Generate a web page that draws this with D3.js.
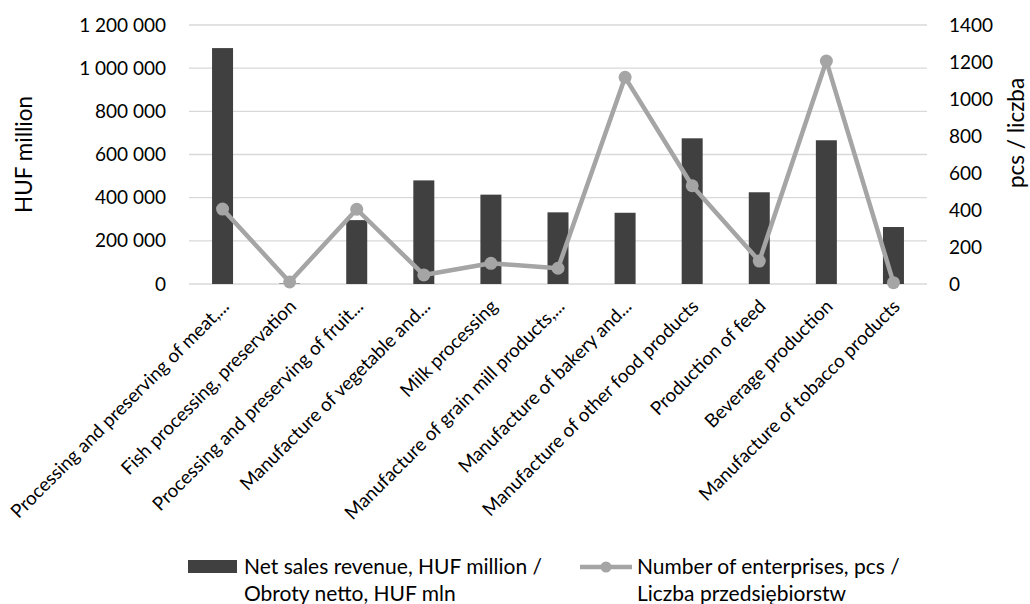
<!DOCTYPE html>
<html>
<head>
<meta charset="utf-8">
<script src="https://d3js.org/d3.v7.min.js"></script>
<style>
  body { margin: 0; background: #fff; }
  text { font-family: Lato, "Open Sans", sans-serif; fill: #000; }
</style>
</head>
<body>
<svg id="chart" width="1030" height="604"></svg>
<script>
var categories = [
  "Processing and preserving of meat,...",
  "Fish processing, preservation",
  "Processing and preserving of fruit...",
  "Manufacture of vegetable and...",
  "Milk processing",
  "Manufacture of grain mill products,...",
  "Manufacture of bakery and...",
  "Manufacture of other food products",
  "Production of feed",
  "Beverage production",
  "Manufacture of tobacco products"
];
var revenue = [1093000, 2000, 296000, 480000, 414000, 332000, 330000, 675000, 425000, 666000, 264000];
var enterprises = [405, 11, 404, 49, 112, 85, 1117, 531, 124, 1205, 7];
var leftTicks = [0, 200000, 400000, 600000, 800000, 1000000, 1200000];
var rightTicks = [0, 200, 400, 600, 800, 1000, 1200, 1400];
var barName = ["Net sales revenue, HUF million /", "Obroty netto, HUF mln"];
var lineName = ["Number of enterprises, pcs /", "Liczba przedsiębiorstw"];

var svg = d3.select("#chart");
var margin = {left: 189, right: 103, top: 25, bottom: 320};
var W = 1030, H = 604;

var x = d3.scaleBand().domain(categories).range([margin.left, W - margin.right]).paddingInner(0).paddingOuter(0);
var yL = d3.scaleLinear().domain([0, 1200000]).range([H - margin.bottom, margin.top]);
var yR = d3.scaleLinear().domain([0, 1400]).range([H - margin.bottom, margin.top]);

var fmt = function(d) { return d3.format(",")(d).replace(/,/g, " "); };

// gridlines
svg.append("g").selectAll("line").data(leftTicks).enter().append("line")
  .attr("x1", margin.left).attr("x2", W - margin.right)
  .attr("y1", function(d) { return yL(d); }).attr("y2", function(d) { return yL(d); })
  .attr("stroke", "#d9d9d9").attr("stroke-width", 1.3);

// left axis
var gl = svg.append("g").attr("transform", "translate(" + margin.left + ",0)")
  .call(d3.axisLeft(yL).tickValues(leftTicks).tickFormat(fmt).tickSize(0).tickPadding(23));
gl.select(".domain").remove();
gl.selectAll("text").style("font-size", "19px").style("font-family", "Lato");

// right axis
var gr = svg.append("g").attr("transform", "translate(" + (W - margin.right) + ",0)")
  .call(d3.axisRight(yR).tickValues(rightTicks).tickFormat(d3.format("d")).tickSize(0).tickPadding(22));
gr.select(".domain").remove();
gr.selectAll("text").style("font-size", "19px").style("font-family", "Lato");

// axis titles
svg.append("text").attr("transform", "translate(32," + ((yL(0) + yL(1200000)) / 2) + ") rotate(-90)")
  .attr("text-anchor", "middle").style("font-size", "22.5px").text("HUF million");
svg.append("text").attr("transform", "translate(1024,133) rotate(-90)")
  .attr("text-anchor", "middle").style("font-size", "22.5px").text("pcs / liczba");

// bars
var bw = 21;
svg.append("g").selectAll("rect").data(revenue).enter().append("rect")
  .attr("x", function(d, i) { return x(categories[i]) + x.bandwidth() / 2 - bw / 2; })
  .attr("y", function(d) { return yL(d); })
  .attr("width", bw)
  .attr("height", function(d) { return yL(0) - yL(d); })
  .attr("fill", "#404040");

// line
var line = d3.line()
  .x(function(d, i) { return x(categories[i]) + x.bandwidth() / 2; })
  .y(function(d) { return yR(d); });
svg.append("path").datum(enterprises).attr("d", line)
  .attr("fill", "none").attr("stroke", "#a5a5a5").attr("stroke-width", 4.5).attr("stroke-linejoin", "round");
svg.append("g").selectAll("circle").data(enterprises).enter().append("circle")
  .attr("cx", function(d, i) { return x(categories[i]) + x.bandwidth() / 2; })
  .attr("cy", function(d) { return yR(d); })
  .attr("r", 6.5).attr("fill", "#a5a5a5");

// x labels
svg.append("g").selectAll("text").data(categories).enter().append("text")
  .attr("transform", function(d) { return "translate(" + (x(d) + x.bandwidth() / 2 + 3) + ",303) rotate(-45)"; })
  .attr("text-anchor", "end")
  .attr("dy", "0.35em")
  .style("font-size", "18.8px")
  .text(function(d) { return d; });

// legend
var lg = svg.append("g");
lg.append("rect").attr("x", 188).attr("y", 560).attr("width", 49).attr("height", 13).attr("fill", "#404040");
lg.append("text").attr("x", 244).attr("y", 574).style("font-size", "21px").text(barName[0]);
lg.append("text").attr("x", 244).attr("y", 601).style("font-size", "21px").text(barName[1]);
lg.append("line").attr("x1", 580).attr("x2", 632).attr("y1", 567).attr("y2", 567)
  .attr("stroke", "#a5a5a5").attr("stroke-width", 4.5);
lg.append("circle").attr("cx", 606).attr("cy", 567).attr("r", 5.5).attr("fill", "#a5a5a5");
lg.append("text").attr("x", 637).attr("y", 574).style("font-size", "21px").text(lineName[0]);
lg.append("text").attr("x", 637).attr("y", 601).style("font-size", "21px").text(lineName[1]);
</script>
</body>
</html>
